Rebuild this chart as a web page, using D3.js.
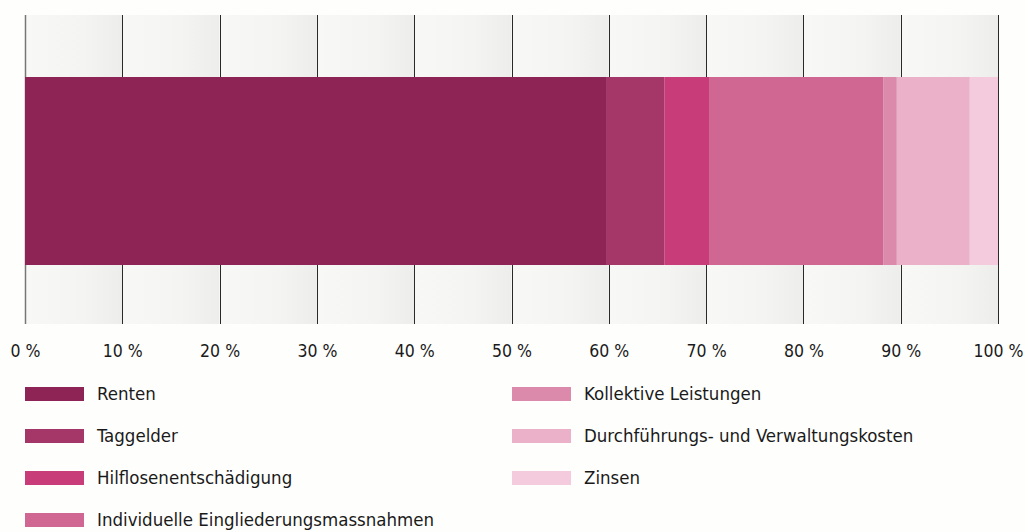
<!DOCTYPE html>
<html><head><meta charset="utf-8">
<script src="https://cdn.jsdelivr.net/npm/d3@7"></script>
<style>
html,body{margin:0;padding:0;background:#fefefc;}
svg text{font-family:"DejaVu Sans Condensed","Liberation Sans Narrow",sans-serif;font-stretch:condensed;fill:#1a1a1a;}
</style></head>
<body>
<svg id="chart" width="1025" height="532"></svg>
<script>
const categories = ["Renten","Taggelder","Hilflosenentschädigung","Individuelle Eingliederungsmassnahmen","Kollektive Leistungen","Durchführungs- und Verwaltungskosten","Zinsen"];
const values = [59.8, 5.9, 4.6, 17.9, 1.4, 7.5, 2.9];
const colors = ["#8e2356","#a53668","#c93c7a","#d06692","#dc8aab","#eab1c8","#f3cbdc"];
const tickValues = [0,10,20,30,40,50,60,70,80,90,100];
const tickLabels = ["0 %","10 %","20 %","30 %","40 %","50 %","60 %","70 %","80 %","90 %","100 %"];

const svg = d3.select("#chart");
const x = d3.scaleLinear().domain([0,100]).range([25,998]);
const plotTop = 15, plotBottom = 324, barTop = 77, barBottom = 265;

const defs = svg.append("defs");
const grad = defs.append("linearGradient").attr("id","colgrad").attr("x1","0").attr("x2","1").attr("y1","0").attr("y2","0");
grad.append("stop").attr("offset","0").attr("stop-color","#f8f8f6");
grad.append("stop").attr("offset","0.6").attr("stop-color","#f4f4f2");
grad.append("stop").attr("offset","1").attr("stop-color","#ededeb");

// background columns
svg.append("g").selectAll("rect").data(tickValues.slice(0,-1)).join("rect")
  .attr("x", d=>x(d)).attr("width", d=>x(d+10)-x(d))
  .attr("y", plotTop).attr("height", plotBottom-plotTop)
  .attr("fill","url(#colgrad)");

// grid lines
svg.append("g").selectAll("line").data(tickValues).join("line")
  .attr("x1", d=>Math.round(x(d))+0.5).attr("x2", d=>Math.round(x(d))+0.5)
  .attr("y1", plotTop).attr("y2", plotBottom)
  .attr("stroke", d=> d===0 ? "#777" : "#2a2a2a").attr("stroke-width", d=> d===0?1.5:1);

// stacked bar
let cum = 0;
const stacked = values.map((v,i)=>{const s={start:cum,end:cum+v,color:colors[i]}; cum+=v; return s;});
svg.append("g").selectAll("rect").data(stacked).join("rect")
  .attr("x", d=>x(d.start)).attr("width", d=>x(d.end)-x(d.start))
  .attr("y", barTop).attr("height", barBottom-barTop)
  .attr("fill", d=>d.color);

// axis labels
const axis = d3.axisBottom(x).tickValues(tickValues).tickFormat((d,i)=>tickLabels[i]).tickSize(0).tickPadding(0);
const ag = svg.append("g").attr("transform",`translate(0,${plotBottom})`).call(axis);
ag.select(".domain").remove();
ag.selectAll("text").attr("y", 27).attr("dy","0.32em").attr("font-size", 17.5).attr("fill","#1a1a1a")
  .style("font-family",'"DejaVu Sans Condensed","Liberation Sans Narrow",sans-serif');

// legend
const legPos = [[25,394],[25,436],[25,478],[25,520],[512,394],[512,436],[512,478]];
const lg = svg.append("g").selectAll("g").data(categories).join("g")
  .attr("transform",(d,i)=>`translate(${legPos[i][0]},${legPos[i][1]})`);
lg.append("rect").attr("x",0).attr("y",-7).attr("width",59).attr("height",14).attr("fill",(d,i)=>colors[i]);
lg.append("text").attr("x",72).attr("y",0).attr("dy","0.35em").attr("font-size",18.5).text(d=>d);
</script>
</body></html>
